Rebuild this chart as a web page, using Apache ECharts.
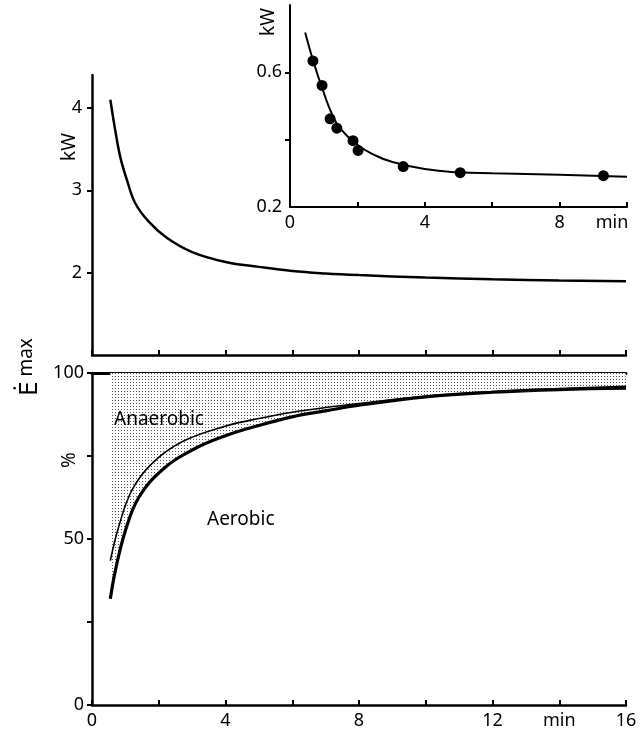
<!DOCTYPE html>
<html>
<head>
<meta charset="utf-8">
<script src="https://cdn.jsdelivr.net/npm/echarts@6/dist/echarts.min.js"></script>
<style>
  html, body { margin: 0; padding: 0; background: #fff; }
  #main { width: 643px; height: 732px; }
</style>
</head>
<body>
<div id="main"></div>
<script>
// upper panel: maximal power (kW) vs duration (min)
const powerT = [0.55, 0.7, 0.85, 1.05, 1.3, 1.7, 2.25, 3, 4, 5, 6, 7, 8, 10, 12, 14, 16];
const powerKW = [4.1, 3.72, 3.4, 3.12, 2.84, 2.62, 2.42, 2.25, 2.13, 2.07, 2.02, 1.99, 1.97, 1.94, 1.92, 1.905, 1.895];

// inset: measured points and fitted curve
const insetPtsT = [0.68, 0.95, 1.19, 1.39, 1.87, 2.02, 3.36, 5.05, 9.3];
const insetPtsKW = [0.634, 0.561, 0.462, 0.434, 0.397, 0.368, 0.32, 0.302, 0.293];
const insetFitT = [0.45, 0.7, 1.0, 1.25, 1.5, 2, 2.5, 3, 4, 5, 6, 8, 10];
const insetFitKW = [0.718, 0.63, 0.54, 0.475, 0.432, 0.385, 0.355, 0.335, 0.313, 0.303, 0.3, 0.296, 0.29];

// lower panel: aerobic share (% of E max)
const thickT = [0.55, 0.7, 1.0, 1.4, 2.1, 3, 4, 5, 6, 7, 8, 10, 12, 14, 16];
const aerobicThick = [32, 40.5, 52.5, 62.5, 70.8, 76.8, 81.1, 84.2, 86.8, 88.6, 90.3, 92.8, 94.2, 95, 95.4];
const thinT = [0.55, 0.8, 1.2, 1.8, 2.7, 4, 5, 6, 7, 8, 10, 12, 14, 16];
const aerobicThin = [43.5, 53.7, 64.8, 72.8, 79.3, 84.0, 86.3, 88.2, 89.6, 90.8, 93, 94.4, 95.3, 96];

const pair = (xs, ys) => xs.map((x, i) => [x, ys[i]]);

// dotted fill pattern
const dot = document.createElement('canvas');
dot.width = 3; dot.height = 3;
const dctx = dot.getContext('2d');
dctx.fillStyle = '#fff';
dctx.fillRect(0, 0, 3, 3);
dctx.fillStyle = '#555';
dctx.fillRect(1, 1, 1, 1);

const font = 'Noto Sans';
const axisLineStyle = { color: '#000', width: 2.5 };
const tickStyle = { color: '#000', width: 2 };
const labelStyle = { color: '#000', fontSize: 18, fontFamily: font };

const myChart = echarts.init(document.getElementById('main'));
const option = {
    backgroundColor: '#fff',
    animation: false,
    grid: [
        { left: 92, right: 17, top: 75, bottom: 377 },
        { left: 92, right: 17, top: 373, bottom: 27 },
        { left: 290, right: 16, top: 5, bottom: 525 }
    ],
    xAxis: [
        {
            gridIndex: 0, type: 'value', min: 0, max: 16, interval: 2,
            axisLine: { lineStyle: axisLineStyle },
            axisTick: { inside: true, length: 5, lineStyle: tickStyle },
            axisLabel: { show: false },
            splitLine: { show: false }
        },
        {
            gridIndex: 1, type: 'value', min: 0, max: 16, interval: 2,
            axisLine: { lineStyle: axisLineStyle },
            axisTick: { inside: true, length: 5, lineStyle: tickStyle },
            axisLabel: Object.assign({
                customValues: [0, 4, 8, 12, 14, 16],
                margin: 7,
                formatter: v => v === 14 ? 'min' : String(v)
            }, labelStyle),
            splitLine: { show: false }
        },
        {
            gridIndex: 1, type: 'value', min: 0, max: 16, position: 'top',
            axisLine: { lineStyle: { color: '#000', width: 3 } },
            axisTick: { show: false },
            axisLabel: { show: false },
            splitLine: { show: false }
        },
        {
            gridIndex: 2, type: 'value', min: 0, max: 10, interval: 2,
            axisLine: { lineStyle: { color: '#000', width: 2 } },
            axisTick: { inside: true, length: 5, lineStyle: tickStyle },
            axisLabel: Object.assign({
                customValues: [0, 4, 8, 10],
                margin: 7,
                formatter: v => v === 10 ? '{m|min}' : String(v),
                rich: { m: { fontSize: 18, fontFamily: font, color: '#000', padding: [0, 30, 0, 0] } }
            }, labelStyle),
            splitLine: { show: false }
        }
    ],
    yAxis: [
        {
            gridIndex: 0, type: 'value', min: 1, max: 4.4,
            axisLine: { lineStyle: axisLineStyle },
            axisTick: { customValues: [2, 3, 4], length: 5, lineStyle: tickStyle },
            axisLabel: Object.assign({ customValues: [2, 3, 4], margin: 10 }, labelStyle),
            splitLine: { show: false }
        },
        {
            gridIndex: 1, type: 'value', min: 0, max: 100, interval: 25,
            axisLine: { lineStyle: axisLineStyle },
            axisTick: { length: 5, lineStyle: tickStyle },
            axisLabel: Object.assign({ customValues: [0, 50, 100], margin: 8 }, labelStyle),
            splitLine: { show: false }
        },
        {
            gridIndex: 2, type: 'value', min: 0.2, max: 0.8,
            axisLine: { lineStyle: { color: '#000', width: 2 } },
            axisTick: { customValues: [0.4, 0.6], length: 5, lineStyle: tickStyle },
            axisLabel: Object.assign({ customValues: [0.2, 0.6], margin: 8 }, labelStyle),
            splitLine: { show: false }
        }
    ],
    series: [
        {
            name: 'power', type: 'line', xAxisIndex: 0, yAxisIndex: 0,
            data: pair(powerT, powerKW), smooth: 0.4, showSymbol: false,
            lineStyle: { color: '#000', width: 2.5 }
        },
        {
            name: 'aerobic', type: 'line', xAxisIndex: 1, yAxisIndex: 1,
            data: pair(thickT, aerobicThick), smooth: 0.4, showSymbol: false,
            lineStyle: { color: '#000', width: 3.2 },
            areaStyle: { origin: 'end', color: { image: dot, repeat: 'repeat' }, opacity: 1 },
            z: 3
        },
        {
            name: 'aerobic upper', type: 'line', xAxisIndex: 1, yAxisIndex: 1,
            data: pair(thinT, aerobicThin), smooth: 0.4, showSymbol: false,
            lineStyle: { color: '#000', width: 1.6 },
            z: 4
        },
        {
            name: 'inset fit', type: 'line', xAxisIndex: 3, yAxisIndex: 2,
            data: pair(insetFitT, insetFitKW), smooth: 0.5, showSymbol: false,
            lineStyle: { color: '#000', width: 2 }
        },
        {
            name: 'inset points', type: 'scatter', xAxisIndex: 3, yAxisIndex: 2,
            data: pair(insetPtsT, insetPtsKW), symbolSize: 11,
            itemStyle: { color: '#000', opacity: 1 }, z: 5
        }
    ],
    graphic: [
        { type: 'text', x: 60, y: 161, rotation: Math.PI / 2, z: 100,
          style: { text: 'kW', fontSize: 19, fontFamily: font, fill: '#000' } },
        { type: 'text', x: 259, y: 36, rotation: Math.PI / 2, z: 100,
          style: { text: 'kW', fontSize: 19, fontFamily: font, fill: '#000' } },
        { type: 'text', x: 60, y: 468, rotation: Math.PI / 2, z: 100,
          style: { text: '%', fontSize: 19, fontFamily: font, fill: '#000' } },
        { type: 'text', x: 17, y: 396, rotation: Math.PI / 2, z: 100,
          style: {
              text: '{e|Ė}{s| max}',
              rich: {
                  e: { fontSize: 26, fontFamily: font, fill: '#000' },
                  s: { fontSize: 19, fontFamily: font, fill: '#000', verticalAlign: 'top' }
              }
          } },
        { type: 'text', x: 114, y: 410, z: 100,
          style: { text: 'Anaerobic', fontSize: 19, fontFamily: font, fill: '#000' } },
        { type: 'text', x: 207, y: 510, z: 100,
          style: { text: 'Aerobic', fontSize: 19, fontFamily: font, fill: '#000' } }
    ]
};
myChart.setOption(option);
</script>
</body>
</html>
